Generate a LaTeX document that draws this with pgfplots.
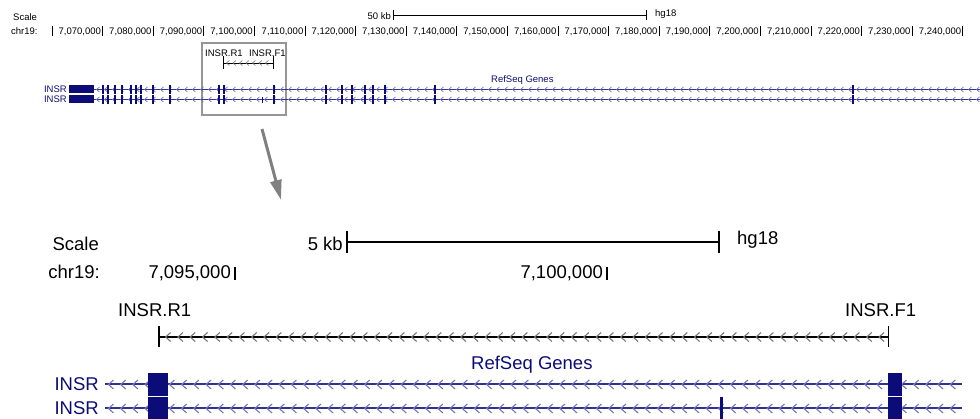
\documentclass[border=0pt]{standalone}
\usepackage{fontspec}
\setmainfont{Liberation Sans}
\usepackage{pgfplots}
\pgfplotsset{compat=1.18}
\usetikzlibrary{decorations.markings,arrows.meta}

\definecolor{gene}{RGB}{12,12,120}
\definecolor{intron}{RGB}{50,50,140}
\definecolor{chev}{RGB}{115,115,190}
\definecolor{boxgray}{RGB}{150,150,150}
\definecolor{arrowgray}{RGB}{128,128,128}
\definecolor{pcrchev}{RGB}{120,120,120}

\tikzset{
  small/.style={font=\fontsize{9.5}{11}\selectfont, inner sep=0pt},
  big/.style={font=\fontsize{18.5}{22}\selectfont, inner sep=0pt},
}

\pgfplotsset{
  panel/.style={scale only axis, width=980pt, height=419pt,
    ymin=0, ymax=419, y dir=reverse, hide axis, clip=false,
    at={(0,0)}, anchor=south west},
  topchev/.style={postaction={decorate}, decoration={markings,
    mark=between positions 4pt and -2pt step 8pt with
      {\draw[chev, line width=0.7pt] (1.5pt,2.5pt) -- (-1.5pt,0pt) -- (1.5pt,-2.5pt);}}},
  toppcrchev/.style={postaction={decorate}, decoration={markings,
    mark=between positions 4pt and -3pt step 6.5pt with
      {\draw[pcrchev, line width=0.6pt] (1.5pt,2.5pt) -- (-1.5pt,0pt) -- (1.5pt,-2.5pt);}}},
  botchev/.style={postaction={decorate}, decoration={markings,
    mark=between positions 6pt and -3pt step 12.2pt with
      {\draw[chev, line width=1.1pt] (2.5pt,4.5pt) -- (-2.5pt,0pt) -- (2.5pt,-4.5pt);}}},
  botpcrchev/.style={postaction={decorate}, decoration={markings,
    mark=between positions 9pt and -6pt step 12.3pt with
      {\draw[pcrchev, line width=1.1pt] (2.5pt,4.5pt) -- (-2.5pt,0pt) -- (2.5pt,-4.5pt);}}},
}

\begin{document}
\begin{tikzpicture}

% frame in picture units: titles, labels, highlight box and arrow
\begin{axis}[panel, name=frame, xmin=0, xmax=980]
  \node[small, anchor=base west] at (axis cs:13,20.4) {Scale};
  \node[small, anchor=base west] at (axis cs:11,34.4) {chr19:};
  \node[small, anchor=base east] at (axis cs:391,19.5) {50 kb};
  \node[small, anchor=base west] at (axis cs:655,17) {hg18};
  \node[small, anchor=base west] at (axis cs:205,57) {INSR.R1};
  \node[small, anchor=base west] at (axis cs:249,57) {INSR.F1};
  \node[small, anchor=base west, text=gene] at (axis cs:491,83) {RefSeq Genes};
  \node[small, anchor=base east, text=gene] at (axis cs:67,93) {INSR};
  \node[small, anchor=base east, text=gene] at (axis cs:67,103) {INSR};
  \draw[boxgray, line width=1.3pt] (axis cs:202,43) rectangle (axis cs:286,115);
  \draw[arrowgray, line width=3pt, -{Triangle[width=11pt,length=20pt]}]
    (axis cs:262,129) -- (axis cs:281,200);

  \node[big, anchor=base east] at (axis cs:99,251) {Scale};
  \node[big, anchor=base east] at (axis cs:100,279) {chr19:};
  \node[big, anchor=base east] at (axis cs:343,251) {5 kb};
  \node[big, anchor=base west] at (axis cs:737,245) {hg18};
  \node[big, anchor=base west] at (axis cs:118,317) {INSR.R1};
  \node[big, anchor=base west] at (axis cs:845,317) {INSR.F1};
  \node[big, anchor=base west, text=gene] at (axis cs:471,370) {RefSeq Genes};
  \node[big, anchor=base east, text=gene] at (axis cs:99,391) {INSR};
  \node[big, anchor=base east, text=gene] at (axis cs:99,415) {INSR};
\end{axis}

% whole-gene view, x in kb on chr19
\begin{axis}[panel, xmin=7049.723, xmax=7243.40]
  % ruler ticks
  \addplot[black, only marks, mark=|, mark size=5pt, mark options={line width=1pt}]
    coordinates {(7060,31) (7070,31) (7080,31) (7090,31) (7100,31) (7110,31)
      (7120,31) (7130,31) (7140,31) (7150,31) (7160,31) (7170,31) (7180,31)
      (7190,31) (7200,31) (7210,31) (7220,31) (7230,31) (7240,31)};
  \node[small, anchor=base east, xshift=-1.5pt] at (axis cs:7070,34.4) {7,070,000};
  \node[small, anchor=base east, xshift=-1.5pt] at (axis cs:7080,34.4) {7,080,000};
  \node[small, anchor=base east, xshift=-1.5pt] at (axis cs:7090,34.4) {7,090,000};
  \node[small, anchor=base east, xshift=-1.5pt] at (axis cs:7100,34.4) {7,100,000};
  \node[small, anchor=base east, xshift=-1.5pt] at (axis cs:7110,34.4) {7,110,000};
  \node[small, anchor=base east, xshift=-1.5pt] at (axis cs:7120,34.4) {7,120,000};
  \node[small, anchor=base east, xshift=-1.5pt] at (axis cs:7130,34.4) {7,130,000};
  \node[small, anchor=base east, xshift=-1.5pt] at (axis cs:7140,34.4) {7,140,000};
  \node[small, anchor=base east, xshift=-1.5pt] at (axis cs:7150,34.4) {7,150,000};
  \node[small, anchor=base east, xshift=-1.5pt] at (axis cs:7160,34.4) {7,160,000};
  \node[small, anchor=base east, xshift=-1.5pt] at (axis cs:7170,34.4) {7,170,000};
  \node[small, anchor=base east, xshift=-1.5pt] at (axis cs:7180,34.4) {7,180,000};
  \node[small, anchor=base east, xshift=-1.5pt] at (axis cs:7190,34.4) {7,190,000};
  \node[small, anchor=base east, xshift=-1.5pt] at (axis cs:7200,34.4) {7,200,000};
  \node[small, anchor=base east, xshift=-1.5pt] at (axis cs:7210,34.4) {7,210,000};
  \node[small, anchor=base east, xshift=-1.5pt] at (axis cs:7220,34.4) {7,220,000};
  \node[small, anchor=base east, xshift=-1.5pt] at (axis cs:7230,34.4) {7,230,000};
  \node[small, anchor=base east, xshift=-1.5pt] at (axis cs:7240,34.4) {7,240,000};

  % 50 kb scale bar
  \addplot[black, line width=0.8pt] coordinates {(7127.39,15.5) (7177.39,15.5)};
  \addplot[black, only marks, mark=|, mark size=5pt, mark options={line width=0.9pt}]
    coordinates {(7127.39,15.5) (7177.39,15.5)};

  % PCR product INSR.R1 - INSR.F1
  \addplot[black, line width=0.8pt, toppcrchev] coordinates {(7093.98,63) (7103.78,63)};
  \addplot[black, only marks, mark=|, mark size=6.5pt, mark options={line width=0.9pt}]
    coordinates {(7093.98,63) (7103.78,63)};

  % two INSR transcripts
  \addplot[intron, line width=1.2pt, topchev] coordinates {(7068.3,89.5) (7243.4,89.5)};
  \addplot[intron, line width=1.2pt, topchev] coordinates {(7068.3,99.5) (7243.4,99.5)};
  \addplot[fill=gene, draw=none] coordinates
    {(7063.36,85.5) (7068.30,85.5) (7068.30,93.5) (7063.36,93.5)} -- cycle;
  \addplot[fill=gene, draw=none] coordinates
    {(7063.36,95.5) (7068.30,95.5) (7068.30,103.5) (7063.36,103.5)} -- cycle;
  % thin exons
  \addplot[gene, only marks, mark=|, mark size=4.5pt, mark options={line width=1.3pt}]
    coordinates {(7070.08,89.5) (7071.07,89.5) (7072.45,89.5) (7075.61,89.5)
      (7076.60,89.5) (7077.59,89.5) (7079.96,89.5) (7083.32,89.5) (7093.00,89.5)
      (7103.87,89.5) (7114.15,89.5) (7117.31,89.5) (7119.29,89.5) (7121.86,89.5)
      (7123.44,89.5)
      (7070.08,99.5) (7071.07,99.5) (7072.45,99.5) (7075.61,99.5)
      (7076.60,99.5) (7077.59,99.5) (7079.96,99.5) (7083.32,99.5) (7093.00,99.5)
      (7103.87,99.5) (7114.15,99.5) (7117.31,99.5) (7119.29,99.5) (7121.86,99.5)
      (7123.44,99.5)};
  \addplot[gene, only marks, mark=|, mark size=3pt, mark options={line width=1.2pt}]
    coordinates {(7101.55,100.5)};
  % wide exons
  \addplot[gene, only marks, mark=|, mark size=4.5pt, mark options={line width=2.4pt}]
    coordinates {(7073.83,89.5) (7093.96,89.5) (7125.81,89.5) (7135.69,89.5) (7218.30,89.5)
      (7073.83,99.5) (7093.96,99.5) (7125.81,99.5) (7135.69,99.5) (7218.30,99.5)};
\end{axis}

% zoomed view around the PCR product, x in kb on chr19
\begin{axis}[panel, xmin=7091.841, xmax=7105.013]
  \addplot[black, only marks, mark=|, mark size=6.5pt, mark options={line width=1.8pt}]
    coordinates {(7095,273.5) (7100,273.5)};
  \node[big, anchor=base east, xshift=-4pt] at (axis cs:7095,279) {7,095,000};
  \node[big, anchor=base east, xshift=-4pt] at (axis cs:7100,279) {7,100,000};

  % 5 kb scale bar
  \addplot[black, line width=1.5pt] coordinates {(7096.505,242) (7101.505,242)};
  \addplot[black, only marks, mark=|, mark size=11pt, mark options={line width=1.5pt}]
    coordinates {(7096.505,242) (7101.505,242)};

  % PCR product
  \addplot[black, line width=1.2pt, botpcrchev] coordinates {(7093.98,337) (7103.78,337)};
  \addplot[black, only marks, mark=|, mark size=10.5pt, mark options={line width=1.5pt}]
    coordinates {(7093.98,337) (7103.78,337)};

  % transcripts
  \addplot[intron, line width=2pt, botchev] coordinates {(7093.252,384.5) (7104.771,384.5)};
  \addplot[intron, line width=2pt, botchev] coordinates {(7093.252,408.5) (7104.771,408.5)};
  \addplot[fill=gene, draw=none] coordinates
    {(7093.83,373.2) (7094.10,373.2) (7094.10,395.8) (7093.83,395.8)} -- cycle;
  \addplot[fill=gene, draw=none] coordinates
    {(7093.83,397.4) (7094.10,397.4) (7094.10,420) (7093.83,420)} -- cycle;
  \addplot[fill=gene, draw=none] coordinates
    {(7103.78,373.2) (7103.96,373.2) (7103.96,395.8) (7103.78,395.8)} -- cycle;
  \addplot[fill=gene, draw=none] coordinates
    {(7103.78,397.4) (7103.96,397.4) (7103.96,420) (7103.78,420)} -- cycle;
  \addplot[fill=gene, draw=none] coordinates
    {(7101.52,397.4) (7101.56,397.4) (7101.56,420) (7101.52,420)} -- cycle;
\end{axis}

\pgfresetboundingbox
\path (frame.south west) rectangle (frame.north east);
\end{tikzpicture}
\end{document}
